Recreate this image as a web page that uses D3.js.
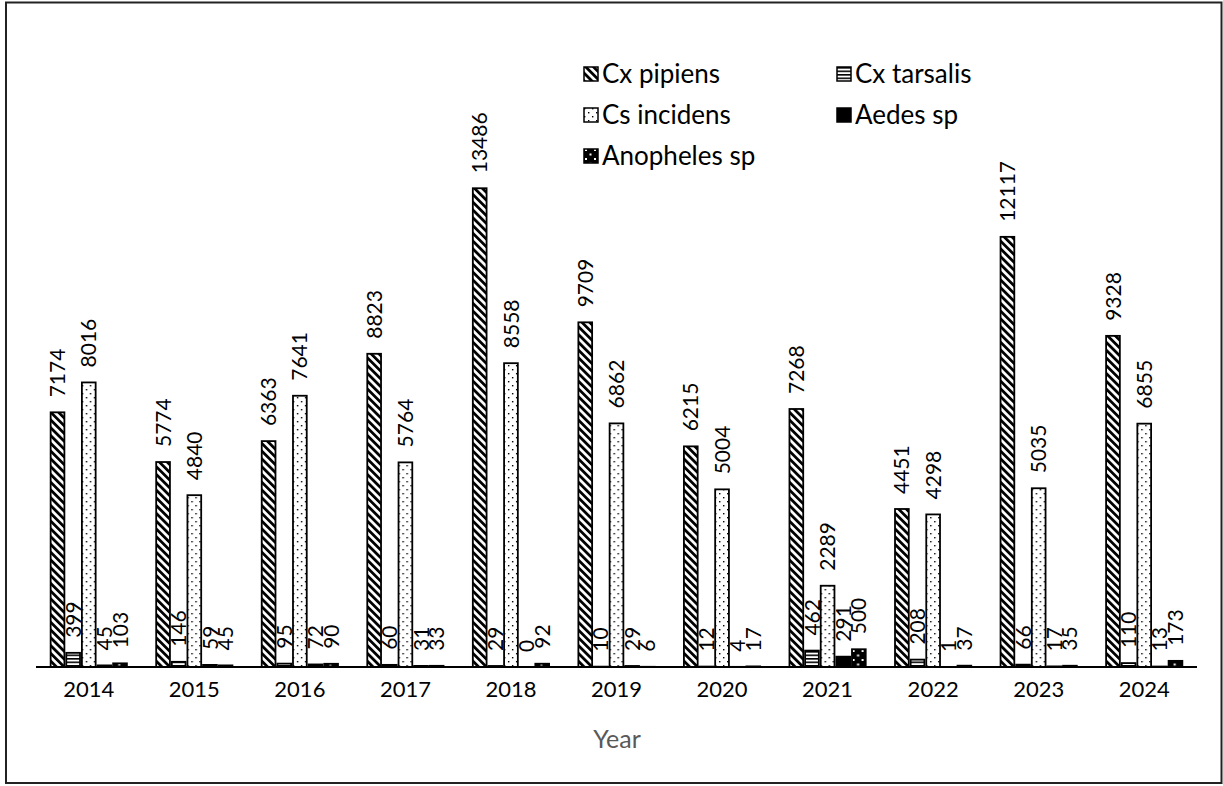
<!DOCTYPE html>
<html>
<head>
<meta charset="utf-8">
<script src="https://cdn.jsdelivr.net/npm/d3@7"></script>
<style>
  html, body { margin: 0; padding: 0; background: #fff; }
  svg { display: block; font-family: Lato, "Liberation Sans", sans-serif; }
</style>
</head>
<body>
<svg id="chart" width="1223" height="786"></svg>
<script>
// ---- data ----
const years = ["2014","2015","2016","2017","2018","2019","2020","2021","2022","2023","2024"];
const seriesNames = ["Cx pipiens","Cx tarsalis","Cs incidens","Aedes sp","Anopheles sp"];
const cxPipiens   = [7174, 5774, 6363, 8823, 13486, 9709, 6215, 7268, 4451, 12117, 9328];
const cxTarsalis  = [399, 146, 95, 60, 29, 10, 12, 462, 208, 66, 110];
const csIncidens  = [8016, 4840, 7641, 5764, 8558, 6862, 5004, 2289, 4298, 5035, 6855];
const aedesSp     = [45, 59, 72, 31, 0, 29, 4, 291, 1, 17, 13];
const anophelesSp = [103, 45, 90, 33, 92, 6, 17, 500, 37, 35, 173];
const seriesValues = [cxPipiens, cxTarsalis, csIncidens, aedesSp, anophelesSp];
const xTitle = "Year";

const svg = d3.select("#chart");

// ---- patterns ----
const defs = svg.append("defs");
const pPip = defs.append("pattern").attr("id","pat0").attr("patternUnits","userSpaceOnUse")
  .attr("width",5.5).attr("height",5.5).attr("patternTransform","rotate(-45)");
pPip.append("rect").attr("width",5.5).attr("height",5.5).attr("fill","#fff");
pPip.append("rect").attr("width",2.8).attr("height",5.5).attr("fill","#000");

const pTar = defs.append("pattern").attr("id","pat1").attr("patternUnits","userSpaceOnUse")
  .attr("width",4).attr("height",3.5);
pTar.append("rect").attr("width",4).attr("height",3.5).attr("fill","#fff");
pTar.append("rect").attr("width",4).attr("height",1.6).attr("fill","#000");

const pInc = defs.append("pattern").attr("id","pat2").attr("patternUnits","userSpaceOnUse")
  .attr("width",8).attr("height",8);
pInc.append("rect").attr("width",8).attr("height",8).attr("fill","#fff");
pInc.append("rect").attr("x",1).attr("y",1).attr("width",1.4).attr("height",1.4).attr("fill","#000");
pInc.append("rect").attr("x",5).attr("y",5).attr("width",1.4).attr("height",1.4).attr("fill","#000");

const pAed = defs.append("pattern").attr("id","pat3").attr("patternUnits","userSpaceOnUse")
  .attr("width",4).attr("height",4);
pAed.append("rect").attr("width",4).attr("height",4).attr("fill","#000");

const pAno = defs.append("pattern").attr("id","pat4").attr("patternUnits","userSpaceOnUse")
  .attr("width",9).attr("height",9);
pAno.append("rect").attr("width",9).attr("height",9).attr("fill","#000");
pAno.append("rect").attr("x",2).attr("y",2).attr("width",2).attr("height",2).attr("fill","#fff");
pAno.append("rect").attr("x",6.5).attr("y",6.5).attr("width",2).attr("height",2).attr("fill","#fff");

const fills = seriesNames.map((d,i) => `url(#pat${i})`);

// ---- frame ----
svg.append("rect").attr("x",6).attr("y",2.5).attr("width",1215.5).attr("height",780.5)
  .attr("fill","none").attr("stroke","#222").attr("stroke-width",2);

// ---- scales ----
const x0 = d3.scaleBand().domain(years).range([36, 1197]).paddingInner(0.242).paddingOuter(0.121);
const x1 = d3.scaleBand().domain(seriesNames).range([0, x0.bandwidth()]).padding(0.12);
const y = d3.scaleLinear().domain([0, 16000]).range([667, 99]);

// ---- bars ----
const groups = svg.append("g").selectAll("g").data(years).join("g")
  .attr("transform", d => `translate(${x0(d)},0)`);

groups.each(function(yr, yi) {
  const g = d3.select(this);
  const data = seriesNames.map((s, si) => ({s, si, v: seriesValues[si][yi]}));
  g.selectAll("rect").data(data.filter(d => d.v > 0)).join("rect")
    .attr("x", d => x1(d.s))
    .attr("y", d => y(d.v))
    .attr("width", x1.bandwidth())
    .attr("height", d => y(0) - y(d.v))
    .attr("fill", d => fills[d.si])
    .attr("stroke", "#000").attr("stroke-width", 1.8);
  g.selectAll("text").data(data).join("text")
    .attr("transform", d => `translate(${x1(d.s) + x1.bandwidth()/2},${y(d.v) - 15}) rotate(-90)`)
    .attr("dy", "0.36em")
    .attr("text-anchor", "start")
    .attr("font-size", 21)
    .attr("fill", "#000")
    .text(d => d.v);
});

// ---- x axis ----
const xAxis = svg.append("g").attr("transform", `translate(0,${y(0)})`)
  .call(d3.axisBottom(x0).tickSize(0).tickPadding(14));
xAxis.select(".domain").attr("stroke","#000").attr("stroke-width",2).attr("d","M36,0H1197");
xAxis.selectAll("text").attr("font-size",22).attr("fill","#000").attr("font-family","Lato, sans-serif");

svg.append("text").attr("x", 617).attr("y", 748).attr("text-anchor","middle")
  .attr("font-size", 25).attr("fill", "#595959").text(xTitle);

// ---- legend ----
const legendPos = [[583,74],[836,74],[583,115],[836,115],[583,156]];
const lg = svg.append("g").selectAll("g").data(seriesNames).join("g")
  .attr("transform", (d,i) => `translate(${legendPos[i][0]},${legendPos[i][1]})`);
lg.append("rect").attr("x",1).attr("y",-7).attr("width",14).attr("height",14)
  .attr("fill",(d,i) => fills[i]).attr("stroke","#000").attr("stroke-width",1.5);
lg.append("text").attr("x",19).attr("dy","0.36em").attr("font-size",26).attr("fill","#000").text(d => d);
</script>
</body>
</html>
